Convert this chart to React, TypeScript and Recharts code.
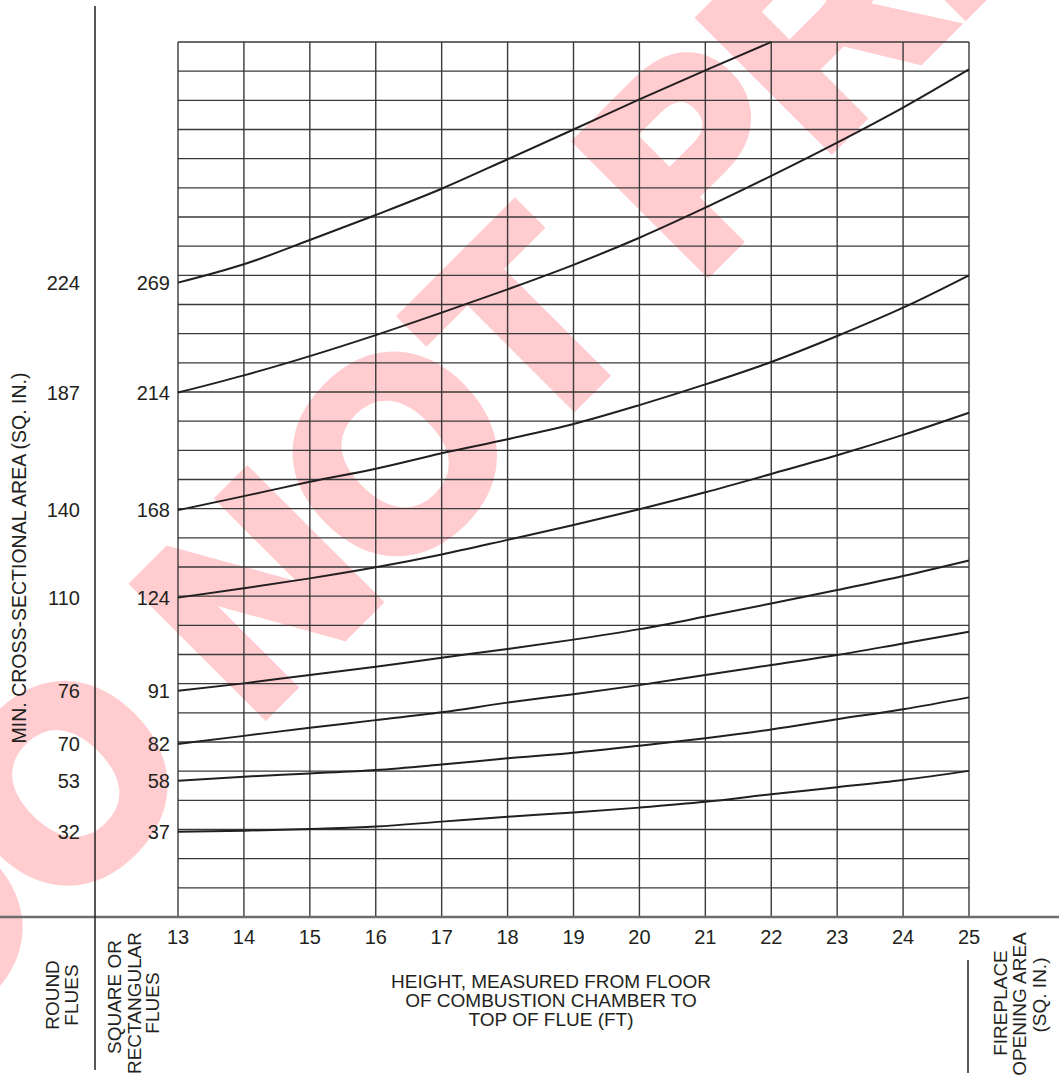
import { LineChart, Line, XAxis, YAxis, CartesianGrid, Customized } from 'recharts'

const heights = [13, 14, 15, 16, 17, 18, 19, 20, 21, 22, 23, 24, 25]

// fireplace opening area (sq. in.) read at each height, one curve per flue size
const curve1 = [2175, 2238, 2321, 2407, 2497, 2598, 2700, 2803, 2903, 3000, null, null, null]
const curve2 = [1798, 1857, 1923, 1995, 2072, 2152, 2236, 2329, 2432, 2541, 2655, 2775, 2906]
const curve3 = [1395, 1443, 1492, 1537, 1590, 1638, 1690, 1755, 1826, 1903, 1992, 2089, 2200]
const curve4 = [1095, 1127, 1161, 1199, 1243, 1293, 1344, 1398, 1456, 1519, 1583, 1653, 1729]
const curve5 = [776, 801, 830, 858, 889, 919, 951, 987, 1030, 1075, 1121, 1169, 1222]
const curve6 = [593, 621, 649, 675, 702, 735, 764, 795, 830, 864, 898, 938, 978]
const curve7 = [467, 481, 492, 504, 523, 544, 563, 587, 613, 643, 678, 712, 753]
const curve8 = [292, 296, 302, 310, 327, 344, 358, 375, 395, 421, 445, 470, 501]

const curves = [curve1, curve2, curve3, curve4, curve5, curve6, curve7, curve8]

// flue sizes labelled at the start of each curve
const squareFlues = [269, 214, 168, 124, 91, 82, 58, 37]
const roundFlues = [224, 187, 140, 110, 76, 70, 53, 32]

const areaTicks = [200, 400, 600, 800, 1000, 1200, 1400, 1600, 1800, 2000, 2200, 2400, 2600, 2800, 3000]
const gridValues = Array.from({ length: 31 }, (_, i) => i * 100)

const chartData = heights.map((h, i) => {
  const row: Record<string, number | null> = { h }
  curves.forEach((c, k) => {
    row[`c${k + 1}`] = c[i]
  })
  return row
})

const startValues = curves.map((c) => c[0] as number)

const FONT = '"Liberation Sans", Arial, Helvetica, sans-serif'
const INK = '#231f20'

function FlueTick(props: any) {
  const { x, y, payload } = props
  const i = startValues.indexOf(payload.value)
  if (i < 0) return null
  return (
    <g>
      <text x={x} y={y} dy={7} textAnchor="end" fontSize={20} fontFamily={FONT} fill={INK}>
        {squareFlues[i]}
      </text>
      <text x={x - 90} y={y} dy={7} textAnchor="end" fontSize={20} fontFamily={FONT} fill={INK}>
        {roundFlues[i]}
      </text>
    </g>
  )
}

function Decorations() {
  const t = { fontSize: 19, fontFamily: FONT, fill: INK }
  return (
    <g>
      <line x1={0} y1={917} x2={1059} y2={917} stroke="#6d6d6d" strokeWidth={2.5} />
      <line x1={95} y1={6} x2={95} y2={1070} stroke={INK} strokeWidth={1.5} />
      <line x1={968} y1={960} x2={968} y2={1073} stroke={INK} strokeWidth={1.5} />
      <text transform="translate(26,558) rotate(-90)" textAnchor="middle" {...t} fontSize={19.5}>
        MIN. CROSS-SECTIONAL AREA (SQ. IN.)
      </text>
      <text transform="translate(59,995) rotate(-90)" textAnchor="middle" {...t}>ROUND</text>
      <text transform="translate(78,995) rotate(-90)" textAnchor="middle" {...t}>FLUES</text>
      <text transform="translate(121,997) rotate(-90)" textAnchor="middle" {...t}>SQUARE OR</text>
      <text transform="translate(141,1003) rotate(-90)" textAnchor="middle" {...t}>RECTANGULAR</text>
      <text transform="translate(159,1003) rotate(-90)" textAnchor="middle" {...t}>FLUES</text>
      <text x={551} y={988} textAnchor="middle" {...t}>HEIGHT, MEASURED FROM FLOOR</text>
      <text x={551} y={1007} textAnchor="middle" {...t}>OF COMBUSTION CHAMBER TO</text>
      <text x={551} y={1026} textAnchor="middle" {...t}>TOP OF FLUE (FT)</text>
      <text transform="translate(1007,1003) rotate(-90)" textAnchor="middle" {...t}>FIREPLACE</text>
      <text transform="translate(1026,1004) rotate(-90)" textAnchor="middle" {...t}>OPENING AREA</text>
      <text transform="translate(1046,995) rotate(-90)" textAnchor="middle" {...t}>(SQ. IN.)</text>
    </g>
  )
}

export default function App() {
  return (
    <div style={{ position: 'absolute', left: 0, top: 0, width: 1059, height: 1076, background: '#fff', overflow: 'hidden' }}>
      <svg width={1059} height={1076} style={{ position: 'absolute', left: 0, top: 0 }}>
        <text
          transform="translate(-76,1053) rotate(-45)"
          fontSize={262}
          fontWeight="bold"
          fontFamily={FONT}
          fill="#ffcdcf"
          stroke="#ffcdcf"
          strokeWidth={14}
          strokeLinejoin="miter"
        >
          DO NOT PRINT
        </text>
      </svg>
      <div style={{ position: 'absolute', left: 0, top: 0 }}>
        <LineChart width={1059} height={1076} data={chartData} margin={{ top: 42, right: 0, bottom: 0, left: 0 }}>
          <CartesianGrid
            horizontalValues={gridValues}
            verticalValues={heights}
            stroke="#3a3a3a"
            strokeWidth={1.4}
          />
          <XAxis
            dataKey="h"
            type="number"
            domain={[13, 25]}
            ticks={heights}
            interval={0}
            height={159}
            axisLine={false}
            tickLine={false}
            tickSize={0}
            tickMargin={13}
            tick={{ fontSize: 20, fontFamily: FONT, fill: INK }}
          />
          <YAxis
            type="number"
            domain={[0, 3000]}
            ticks={startValues}
            interval={0}
            width={178}
            axisLine={false}
            tickLine={false}
            tickSize={0}
            tickMargin={8}
            tick={<FlueTick />}
          />
          <YAxis
            yAxisId="right"
            orientation="right"
            type="number"
            domain={[0, 3000]}
            ticks={areaTicks}
            interval={0}
            width={90}
            axisLine={false}
            tickSize={37}
            tickMargin={5}
            tickLine={{ stroke: '#3a3a3a', strokeWidth: 1.4 }}
            tick={{ fontSize: 20, fontFamily: FONT, fill: INK }}
          />
          {curves.map((_, k) => (
            <Line
              key={k}
              dataKey={`c${k + 1}`}
              type="monotone"
              stroke={INK}
              strokeWidth={2}
              dot={false}
              activeDot={false}
              connectNulls={false}
              isAnimationActive={false}
            />
          ))}
          <Customized component={Decorations} />
        </LineChart>
      </div>
    </div>
  )
}
